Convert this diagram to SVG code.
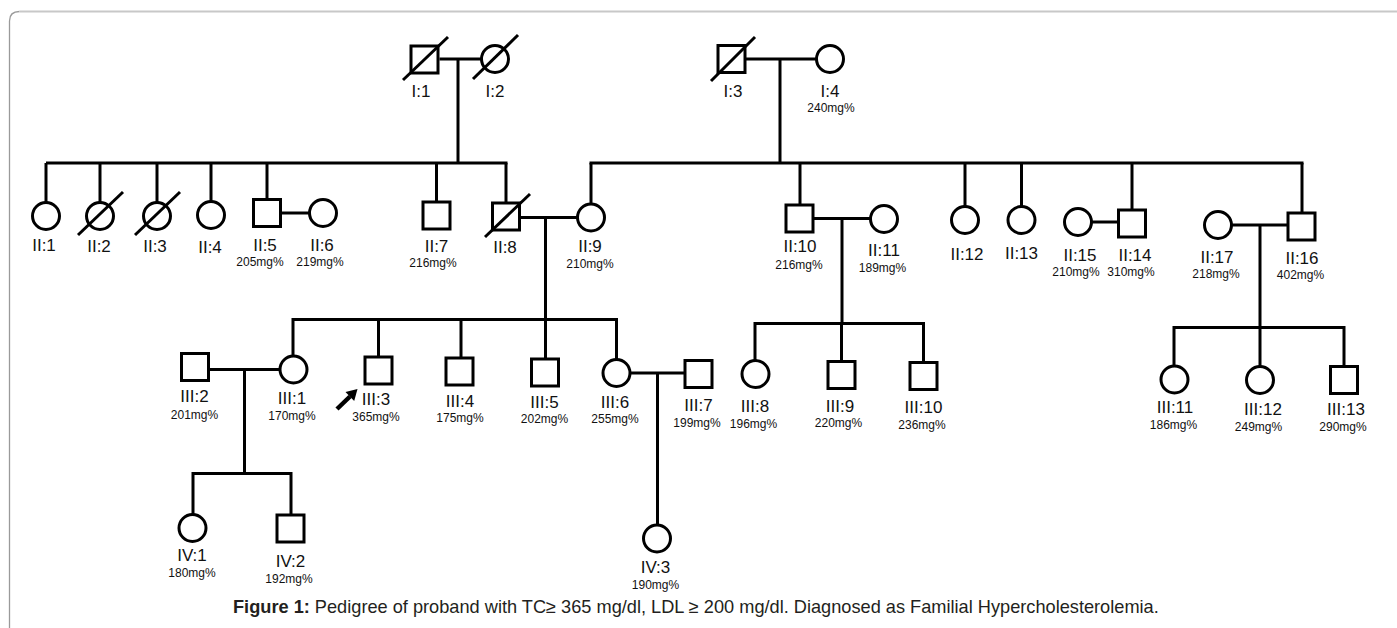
<svg xmlns="http://www.w3.org/2000/svg" width="1397" height="628" viewBox="0 0 1397 628">
<style>
.sym{fill:#fff;stroke:#000;stroke-width:3}
.dec{stroke:#000;stroke-width:3;fill:none}
#connectors line,#connectors polyline{stroke:#000;stroke-width:3;fill:none}
.lb{font-family:"Liberation Sans",Arial,sans-serif;font-size:17px;fill:#111;text-anchor:middle}
.mg{font-family:"Liberation Sans",Arial,sans-serif;font-size:12px;fill:#111;text-anchor:middle}
.cap{font-family:"Liberation Sans",Arial,sans-serif;font-size:18.2px;fill:#231f20}
</style>
<rect width="1397" height="628" fill="#fff"/>
<path d="M9.5,628 V21 Q9.5,11.5 19.5,11.5" fill="none" stroke="#9a9a9a" stroke-width="1.3"/>
<path d="M19.5,11.5 H1397" fill="none" stroke="#c8c8c8" stroke-width="2"/>

<g id="connectors">
<line x1="439.5" y1="59" x2="481.5" y2="59"/>
<line x1="458" y1="59" x2="458" y2="163"/>
<line x1="746" y1="59" x2="816.5" y2="59"/>
<line x1="780" y1="59" x2="780" y2="163"/>
<line x1="46" y1="163" x2="507.5" y2="163"/>
<line x1="46" y1="163" x2="46" y2="202"/>
<line x1="100" y1="163" x2="100" y2="202"/>
<line x1="157" y1="163" x2="157" y2="202"/>
<line x1="211" y1="163" x2="211" y2="201"/>
<line x1="267" y1="163" x2="267" y2="199"/>
<line x1="436.5" y1="163" x2="436.5" y2="201"/>
<line x1="506" y1="163" x2="506" y2="202"/>
<line x1="282" y1="213" x2="309" y2="213"/>
<line x1="589.5" y1="163" x2="1303.5" y2="163"/>
<line x1="591" y1="163" x2="591" y2="204"/>
<line x1="800" y1="163" x2="800" y2="204"/>
<line x1="965" y1="163" x2="965" y2="206"/>
<line x1="1021.5" y1="163" x2="1021.5" y2="206"/>
<line x1="1132" y1="163" x2="1132" y2="209"/>
<line x1="1302" y1="163" x2="1302" y2="212"/>
<line x1="520" y1="217.5" x2="577" y2="217.5"/>
<line x1="545.5" y1="217.5" x2="545.5" y2="319.5"/>
<line x1="813" y1="218.5" x2="870" y2="218.5"/>
<line x1="842" y1="218.5" x2="842" y2="323.5"/>
<line x1="1092" y1="222" x2="1118" y2="222"/>
<line x1="1232" y1="225" x2="1288" y2="225"/>
<line x1="1260" y1="225" x2="1260" y2="327.5"/>
<polyline points="293,356 293,319.5 616.5,319.5 616.5,359"/>
<line x1="378.5" y1="319.5" x2="378.5" y2="357"/>
<line x1="461" y1="319.5" x2="461" y2="358"/>
<line x1="545.5" y1="319.5" x2="545.5" y2="359"/>
<polyline points="755,360.5 755,323.5 923.5,323.5 923.5,362"/>
<line x1="841.5" y1="323.5" x2="841.5" y2="361"/>
<polyline points="1174,366 1174,327.5 1344,327.5 1344,366"/>
<line x1="1260" y1="327.5" x2="1260" y2="366.5"/>
<line x1="209" y1="369.5" x2="280" y2="369.5"/>
<line x1="244.5" y1="369.5" x2="244.5" y2="473.5"/>
<polyline points="193,514 193,473.5 291,473.5 291,514"/>
<line x1="630" y1="373" x2="685" y2="373"/>
<line x1="657.5" y1="373" x2="657.5" y2="525"/>
</g>

<g id="I1"><rect class="sym" x="411" y="46" width="27" height="27"/><line class="dec" x1="403" y1="80" x2="448" y2="37"/><text class="lb" x="421" y="97">I:1</text></g>
<g id="I2"><circle class="sym" cx="495" cy="59" r="13.5"/><line class="dec" x1="473" y1="79" x2="518" y2="35"/><text class="lb" x="495" y="97">I:2</text></g>
<g id="I3"><rect class="sym" x="718" y="45.5" width="27" height="27"/><line class="dec" x1="711" y1="81" x2="755" y2="37"/><text class="lb" x="733" y="97">I:3</text></g>
<g id="I4"><circle class="sym" cx="830" cy="59" r="13.5"/><text class="lb" x="830" y="97">I:4</text><text class="mg" x="831" y="111.5">240mg%</text></g>

<g id="II1"><circle class="sym" cx="46" cy="216" r="13.5"/><text class="lb" x="44" y="251">II:1</text></g>
<g id="II2"><circle class="sym" cx="100" cy="216" r="13.5"/><line class="dec" x1="78" y1="235" x2="123" y2="192"/><text class="lb" x="99" y="251.5">II:2</text></g>
<g id="II3"><circle class="sym" cx="157" cy="216" r="13.5"/><line class="dec" x1="135" y1="235" x2="180" y2="192"/><text class="lb" x="155" y="252">II:3</text></g>
<g id="II4"><circle class="sym" cx="211" cy="215" r="13.5"/><text class="lb" x="210" y="253">II:4</text></g>
<g id="II5"><rect class="sym" x="253.5" y="199.5" width="27" height="27"/><text class="lb" x="265" y="250.5">II:5</text><text class="mg" x="260" y="266">205mg%</text></g>
<g id="II6"><circle class="sym" cx="323" cy="213" r="13.5"/><text class="lb" x="322" y="250.5">II:6</text><text class="mg" x="320" y="266">219mg%</text></g>
<g id="II7"><rect class="sym" x="423" y="202" width="27" height="27"/><text class="lb" x="436.5" y="251.5">II:7</text><text class="mg" x="433" y="266.5">216mg%</text></g>
<g id="II8"><rect class="sym" x="492.5" y="203" width="27" height="27"/><line class="dec" x1="485" y1="237" x2="530" y2="194"/><text class="lb" x="505" y="253">II:8</text></g>
<g id="II9"><circle class="sym" cx="591" cy="217.5" r="13.5"/><text class="lb" x="590" y="252">II:9</text><text class="mg" x="590" y="268">210mg%</text></g>
<g id="II10"><rect class="sym" x="786" y="205" width="27" height="27"/><text class="lb" x="800" y="252">II:10</text><text class="mg" x="799" y="269">216mg%</text></g>
<g id="II11"><circle class="sym" cx="884" cy="219" r="13.5"/><text class="lb" x="884" y="255.5">II:11</text><text class="mg" x="882.5" y="272">189mg%</text></g>
<g id="II12"><circle class="sym" cx="965" cy="220" r="13.5"/><text class="lb" x="967" y="260">II:12</text></g>
<g id="II13"><circle class="sym" cx="1021.5" cy="220" r="13.5"/><text class="lb" x="1021.5" y="259">II:13</text></g>
<g id="II15"><circle class="sym" cx="1078" cy="222" r="13.5"/><text class="lb" x="1080" y="260.5">II:15</text><text class="mg" x="1076" y="276">210mg%</text></g>
<g id="II14"><rect class="sym" x="1118.5" y="210" width="27" height="27"/><text class="lb" x="1135" y="260.5">II:14</text><text class="mg" x="1131" y="276">310mg%</text></g>
<g id="II17"><circle class="sym" cx="1218" cy="225" r="13.5"/><text class="lb" x="1217" y="262.5">II:17</text><text class="mg" x="1216" y="278">218mg%</text></g>
<g id="II16"><rect class="sym" x="1288" y="213" width="27" height="27"/><text class="lb" x="1302" y="263.5">II:16</text><text class="mg" x="1300.5" y="278.5">402mg%</text></g>

<g id="III2"><rect class="sym" x="181.5" y="353.5" width="27" height="27"/><text class="lb" x="194.5" y="402">III:2</text><text class="mg" x="194.5" y="419">201mg%</text></g>
<g id="III1"><circle class="sym" cx="293.5" cy="369.5" r="13.5"/><text class="lb" x="292" y="404">III:1</text><text class="mg" x="292" y="419.5">170mg%</text></g>
<g id="III3"><rect class="sym" x="365" y="357" width="27" height="27"/><text class="lb" x="376" y="405">III:3</text><text class="mg" x="376" y="420.5">365mg%</text></g>
<g id="proband-arrow"><line x1="337" y1="409" x2="350" y2="396.5" stroke="#000" stroke-width="4.5"/><polygon points="357.5,389 354.2,401 345.5,392" fill="#000"/></g>
<g id="III4"><rect class="sym" x="446" y="358" width="27" height="27"/><text class="lb" x="460" y="406.5">III:4</text><text class="mg" x="460" y="421.5">175mg%</text></g>
<g id="III5"><rect class="sym" x="531.5" y="359" width="27" height="27"/><text class="lb" x="544.5" y="407.5">III:5</text><text class="mg" x="544.5" y="423">202mg%</text></g>
<g id="III6"><circle class="sym" cx="616.5" cy="373" r="13.5"/><text class="lb" x="615" y="408">III:6</text><text class="mg" x="615" y="423">255mg%</text></g>
<g id="III7"><rect class="sym" x="685" y="360.5" width="27" height="27"/><text class="lb" x="698.5" y="411">III:7</text><text class="mg" x="697" y="426.5">199mg%</text></g>
<g id="III8"><circle class="sym" cx="755.5" cy="374" r="13.5"/><text class="lb" x="755" y="412">III:8</text><text class="mg" x="753.5" y="427.5">196mg%</text></g>
<g id="III9"><rect class="sym" x="828" y="361.5" width="27" height="27"/><text class="lb" x="840" y="412">III:9</text><text class="mg" x="838.5" y="427">220mg%</text></g>
<g id="III10"><rect class="sym" x="910" y="362.5" width="27" height="27"/><text class="lb" x="923.5" y="413">III:10</text><text class="mg" x="922" y="428.5">236mg%</text></g>
<g id="III11"><circle class="sym" cx="1174.5" cy="379.5" r="13.5"/><text class="lb" x="1175" y="413">III:11</text><text class="mg" x="1173.5" y="429">186mg%</text></g>
<g id="III12"><circle class="sym" cx="1260" cy="380" r="13.5"/><text class="lb" x="1263" y="415">III:12</text><text class="mg" x="1258.5" y="430.5">249mg%</text></g>
<g id="III13"><rect class="sym" x="1330.5" y="366.5" width="27" height="27"/><text class="lb" x="1346" y="414.5">III:13</text><text class="mg" x="1343" y="430.5">290mg%</text></g>

<g id="IV1"><circle class="sym" cx="192.5" cy="528" r="13.5"/><text class="lb" x="192" y="561">IV:1</text><text class="mg" x="192" y="577">180mg%</text></g>
<g id="IV2"><rect class="sym" x="277" y="515" width="27" height="27"/><text class="lb" x="290.5" y="566.5">IV:2</text><text class="mg" x="289" y="582.5">192mg%</text></g>
<g id="IV3"><circle class="sym" cx="657" cy="538.5" r="13.5"/><text class="lb" x="655.5" y="573">IV:3</text><text class="mg" x="655.5" y="589">190mg%</text></g>

<text class="cap" x="233" y="613"><tspan font-weight="bold">Figure 1:</tspan> Pedigree of proband with TC≥ 365 mg/dl, LDL ≥ 200 mg/dl. Diagnosed as Familial Hypercholesterolemia.</text>
</svg>
